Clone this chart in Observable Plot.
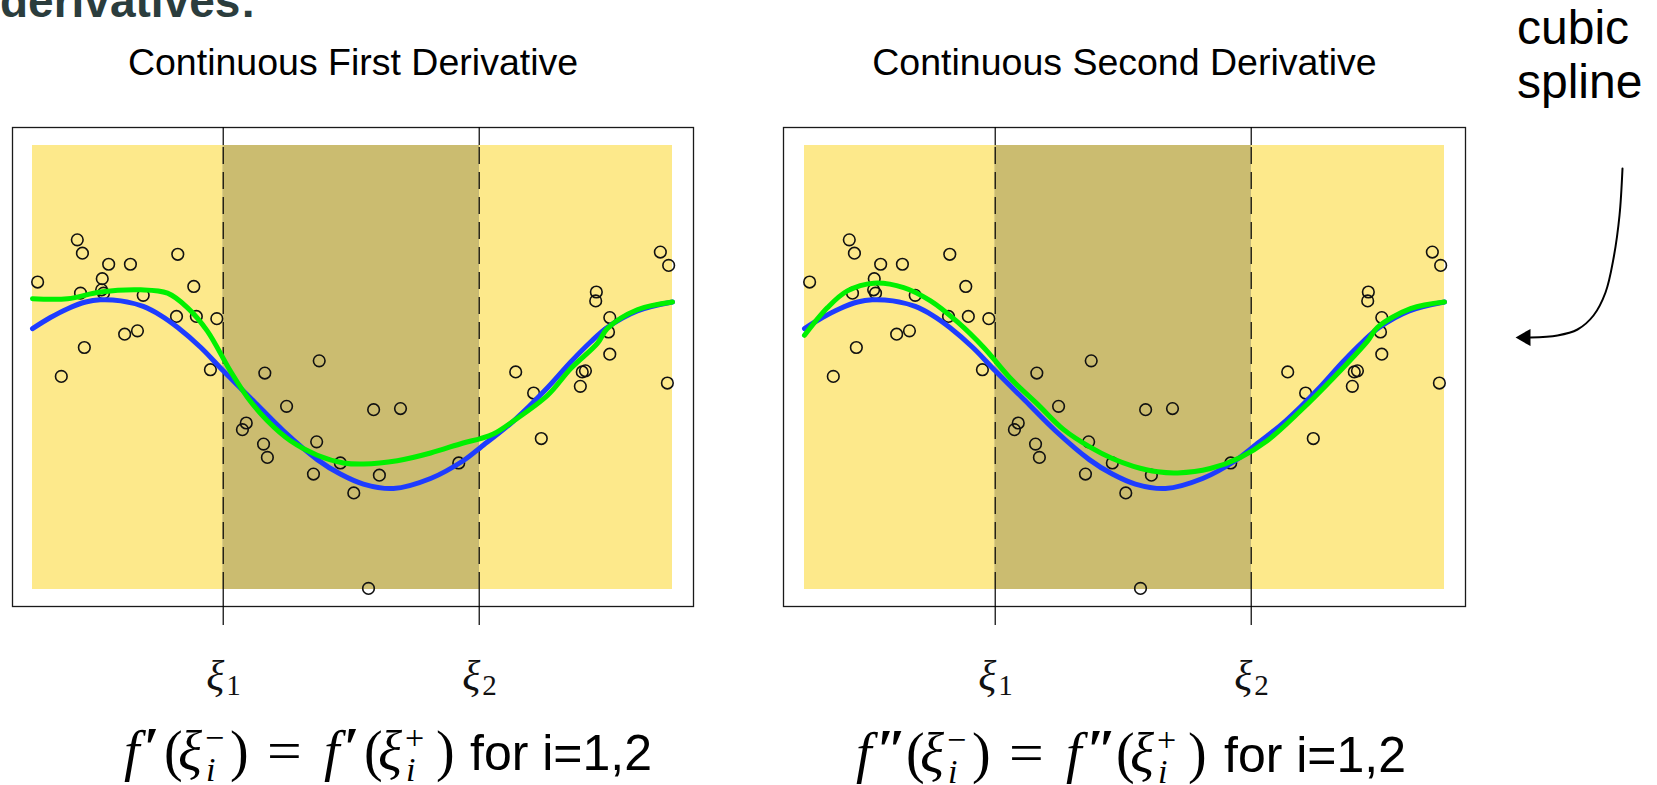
<!DOCTYPE html>
<html>
<head>
<meta charset="utf-8">
<script src="https://cdn.jsdelivr.net/npm/d3@7"></script>
<script src="https://cdn.jsdelivr.net/npm/@observablehq/plot@0.6"></script>
<style>
  html, body { margin: 0; padding: 0; background: #fff; }
  #page { position: relative; width: 1657px; height: 785px; overflow: hidden; background: #fff; font-family: "Liberation Sans", Arial, sans-serif; }
  .abs { position: absolute; }
  .top-text { position: absolute; left: 0px; top: -22px; font-size: 46px; line-height: 46px; font-weight: bold; color: #2b3d3d; white-space: nowrap; }
  .note { position: absolute; left: 1517px; top: 1px; font-size: 48px; line-height: 54px; color: #000; }
</style>
</head>
<body>
<div id="page"></div>
<script>
// ---------------- data ----------------
const knots = [0.298, 0.698];
const knotSubscripts = ["1", "2"];
const panelTitles = ["Continuous First Derivative", "Continuous Second Derivative"];
const xDomain = [0, 1];
const yDomain = [-2, 2];

const pointX = [0.070,0.078,0.119,0.153,0.227,0.008,0.109,0.075,0.108,0.111,0.173,0.252,0.225,0.256,0.288,0.144,0.164,0.081,0.278,0.045,0.363,0.448,0.397,0.334,0.328,0.361,0.367,0.444,0.481,0.439,0.502,0.533,0.575,0.542,0.666,0.525,0.755,0.783,0.795,0.859,0.864,0.856,0.902,0.992,0.981,0.994,0.881,0.880,0.902,0.900];
const pointY = [1.15,1.03,0.93,0.93,1.02,0.77,0.80,0.67,0.70,0.67,0.65,0.73,0.46,0.46,0.44,0.30,0.33,0.18,-0.02,-0.08,-0.05,0.06,-0.35,-0.50,-0.56,-0.69,-0.81,-0.67,-0.86,-0.96,-1.13,-0.38,-0.37,-0.97,-0.86,-1.99,-0.04,-0.23,-0.64,-0.04,-0.03,-0.17,0.12,-0.14,1.04,0.92,0.68,0.60,0.45,0.32];

// cubic spline (blue), same in both panels
const blueX = [0.000,0.028,0.055,0.083,0.106,0.138,0.173,0.200,0.227,0.263,0.298,0.345,0.392,0.445,0.481,0.517,0.564,0.622,0.673,0.700,0.752,0.805,0.841,0.872,0.898,0.945,1.000];
const blueY = [0.35,0.45,0.53,0.59,0.61,0.60,0.55,0.47,0.36,0.18,-0.03,-0.30,-0.57,-0.83,-0.96,-1.05,-1.09,-1.00,-0.84,-0.72,-0.48,-0.18,0.05,0.23,0.36,0.51,0.59];

// piecewise cubic, continuous first derivative (green, left)
const greenLX = [0.000,0.055,0.106,0.169,0.211,0.242,0.273,0.309,0.336,0.367,0.403,0.445,0.486,0.517,0.570,0.622,0.673,0.700,0.720,0.752,0.805,0.841,0.883,0.898,0.945,1.000];
const greenLY = [0.62,0.62,0.68,0.70,0.67,0.54,0.33,-0.03,-0.27,-0.48,-0.66,-0.79,-0.86,-0.87,-0.84,-0.77,-0.68,-0.64,-0.60,-0.48,-0.25,-0.01,0.22,0.35,0.52,0.59];

// piecewise cubic, continuous second derivative (green, right)
const greenRX = [0.000,0.036,0.067,0.108,0.155,0.197,0.239,0.280,0.322,0.364,0.405,0.447,0.481,0.514,0.552,0.583,0.634,0.681,0.723,0.775,0.827,0.880,0.895,0.947,1.000];
const greenRY = [0.29,0.54,0.69,0.76,0.72,0.60,0.41,0.18,-0.10,-0.33,-0.56,-0.72,-0.82,-0.89,-0.94,-0.95,-0.91,-0.81,-0.66,-0.39,-0.09,0.24,0.36,0.53,0.59];

// annotation arrow (page pixels)
const arrowX = [1622,1619,1613,1605,1593,1577,1557,1530];
const arrowY = [168,215,258,292,315,329,335,337];
const arrowTip = [{x: 1525, y: 337}];

// formula pieces: [text, kind, offset]
const formulaLeft = [["f","mi",0],["′","pr",20],["(","mr",40],["ξ","mi",54],["−","sup",81],["i","sub",82],[")","mr",106],["=","eq",143],["f","mi",200],["′","pr",220],["(","mr",240],["ξ","mi",254],["+","sup",281],["i","sub",282],[")","mr",312],["for i=1,2","txt",346]];
const formulaRight = [["f","mi",0],["″","pr",20],["(","mr",50],["ξ","mi",64],["−","sup",91],["i","sub",92],[")","mr",116],["=","eq",153],["f","mi",210],["″","pr",230],["(","mr",260],["ξ","mi",274],["+","sup",301],["i","sub",302],[")","mr",332],["for i=1,2","txt",368]];

// ---------------- styles ----------------
const LIGHT = "#fde98b";
const DARK = "#cbbc70";
const BLUE = "#1e3cff";
const GREEN = "#00f000";
const FONT = "Liberation Sans, Arial, sans-serif";
const SERIF = "Liberation Serif, serif";

const page = document.getElementById("page");

function place(node, left, top) {
  const wrap = document.createElement("div");
  wrap.className = "abs";
  wrap.style.left = left + "px";
  wrap.style.top = top + "px";
  wrap.appendChild(node);
  page.appendChild(wrap);
  return wrap;
}

function panel(title, gx, gy, width, insetLeft) {
  const pts = pointX.map((x, i) => ({x, y: pointY[i]}));
  const blue = blueX.map((x, i) => ({x, y: blueY[i]}));
  const green = gx.map((x, i) => ({x, y: gy[i]}));
  const bounds = [xDomain[0], ...knots, xDomain[1]];
  const regions = bounds.slice(0, -1).map((x1, i) => ({x1, x2: bounds[i + 1], y1: yDomain[0], y2: yDomain[1], inner: i % 2 === 1}));
  const labels = knots.map((k, i) => ({k, s: knotSubscripts[i]}));
  return Plot.plot({
    width, height: 785,
    marginLeft: 12, marginRight: 12, marginTop: 127, marginBottom: 179,
    x: {domain: xDomain, insetLeft, insetRight: 21, axis: null, label: null},
    y: {domain: yDomain, insetTop: 18, insetBottom: 17, axis: null, label: null},
    style: {background: "transparent", overflow: "visible", fontFamily: FONT},
    marks: [
      Plot.frame({stroke: "#1a1a1a", strokeWidth: 1.3}),
      Plot.ruleX(knots, {stroke: "#000", strokeWidth: 1.2}),
      Plot.rect(regions.filter(d => !d.inner), {x1: "x1", x2: "x2", y1: "y1", y2: "y2", fill: LIGHT}),
      Plot.rect(regions.filter(d => d.inner), {x1: "x1", x2: "x2", y1: "y1", y2: "y2", fill: DARK}),
      Plot.ruleX(knots, {y1: yDomain[0], y2: yDomain[1], stroke: "#000", strokeWidth: 1.2, strokeDasharray: "17,8"}),
      Plot.axisX({ticks: knots, tickSize: 19, tickFormat: () => "", label: null, stroke: "#000", strokeWidth: 1.2}),
      Plot.text(labels, {x: "k", text: () => "ξ", frameAnchor: "bottom", dy: 83, lineAnchor: "bottom", textAnchor: "end", dx: 1, fontFamily: SERIF, fontStyle: "italic", fontSize: 42, fill: "#111"}),
      Plot.text(labels, {x: "k", text: "s", frameAnchor: "bottom", dy: 88, lineAnchor: "bottom", textAnchor: "start", dx: 3, fontFamily: SERIF, fontSize: 29, fill: "#111"}),
      Plot.text([title], {text: d => d, frameAnchor: "top", dy: -53, lineAnchor: "bottom", fontFamily: FONT, fontSize: 37.5, fill: "#000"}),
      Plot.dot(pts, {x: "x", y: "y", r: 5.8, stroke: "#111", strokeWidth: 1.6, fill: "none"}),
      Plot.line(blue, {x: "x", y: "y", stroke: BLUE, strokeWidth: 5, curve: "catmull-rom"}),
      Plot.line(green, {x: "x", y: "y", stroke: GREEN, strokeWidth: 5, curve: "catmull-rom"})
    ]
  });
}

place(panel(panelTitles[0], greenLX, greenLY, 705, 20), 0, 0);
place(panel(panelTitles[1], greenRX, greenRY, 706, 21), 771, 0);

// annotation overlay (arrow)
const arrowPts = arrowX.map((x, i) => ({x, y: arrowY[i]}));
const overlay = Plot.plot({
  width: 1657, height: 785, margin: 0,
  x: {type: "identity", axis: null},
  y: {type: "identity", axis: null},
  style: {background: "transparent"},
  marks: [
    Plot.line(arrowPts, {x: "x", y: "y", stroke: "#000", strokeWidth: 2, curve: "catmull-rom"}),
    Plot.dot(arrowTip, {x: "x", y: "y", symbol: "triangle", r: 6.4, fill: "#000", stroke: "none", rotate: -90})
  ]
});
const ow = place(overlay, 0, 0);
ow.style.pointerEvents = "none";

// texts
const topText = document.createElement("div");
topText.className = "top-text";
topText.textContent = "derivatives:";
page.appendChild(topText);

const note = document.createElement("div");
note.className = "note";
note.innerHTML = "cubic<br>spline";
page.appendChild(note);

// formulas as svg text with explicit baselines
const fsvg = d3.create("svg").attr("width", 1657).attr("height", 785).style("position", "absolute").style("left", "0px").style("top", "0px").style("pointer-events", "none");
function formula(pieces, left, baseline) {
  const g = fsvg.append("g").attr("transform", `translate(${left},${baseline})`);
  for (const [t, kind, off] of pieces) {
    const el = g.append("text").text(t).attr("fill", "#000");
    if (kind === "mi") el.attr("x", off).attr("font-family", SERIF).attr("font-style", "italic").attr("font-size", 56);
    else if (kind === "mr") el.attr("x", off).attr("font-family", SERIF).attr("font-size", 56);
    else if (kind === "pr") el.attr("x", off).attr("y", -3).attr("font-family", SERIF).attr("font-size", 56).attr("font-weight", "bold");
    else if (kind === "sup") el.attr("x", off).attr("y", -21).attr("font-family", SERIF).attr("font-size", 34);
    else if (kind === "sub") el.attr("x", off).attr("y", 11).attr("font-family", SERIF).attr("font-style", "italic").attr("font-size", 34);
    else if (kind === "eq") el.attr("transform", `translate(${off},0) scale(1.1,1)`).attr("font-family", SERIF).attr("font-size", 56);
    else el.attr("x", off).attr("font-family", FONT).attr("font-size", 50);
  }
}
formula(formulaLeft, 124, 770);
formula(formulaRight, 856, 772);
page.appendChild(fsvg.node());
</script>
</body>
</html>
